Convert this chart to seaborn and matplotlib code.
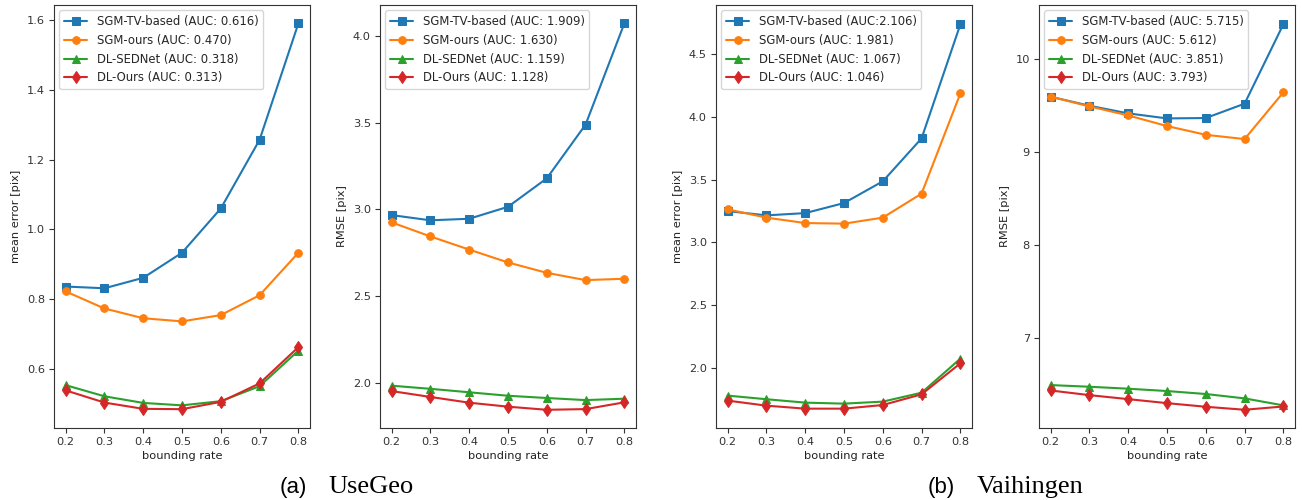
import numpy as np
import pandas as pd
import matplotlib
matplotlib.use("Agg")
import matplotlib.pyplot as plt
import seaborn as sns

rates = [0.2, 0.3, 0.4, 0.5, 0.6, 0.7, 0.8]
methods = ["SGM-TV-based", "SGM-ours", "DL-SEDNet", "DL-Ours"]

# UseGeo - mean error
use_me_tv = [0.836, 0.831, 0.861, 0.933, 1.060, 1.257, 1.591]
use_me_sgm = [0.822, 0.773, 0.745, 0.736, 0.754, 0.811, 0.933]
use_me_sed = [0.553, 0.521, 0.502, 0.495, 0.507, 0.550, 0.652]
use_me_dl = [0.538, 0.503, 0.485, 0.484, 0.505, 0.558, 0.662]
use_me_auc = ["0.616", "0.470", "0.318", "0.313"]

# UseGeo - RMSE
use_rm_tv = [2.967, 2.937, 2.946, 3.015, 3.179, 3.489, 4.073]
use_rm_sgm = [2.925, 2.844, 2.768, 2.694, 2.634, 2.592, 2.600]
use_rm_sed = [1.983, 1.965, 1.945, 1.925, 1.912, 1.900, 1.908]
use_rm_dl = [1.952, 1.918, 1.885, 1.862, 1.844, 1.848, 1.887]
use_rm_auc = ["1.909", "1.630", "1.159", "1.128"]

# Vaihingen - mean error
vai_me_tv = [3.249, 3.215, 3.233, 3.313, 3.486, 3.828, 4.736]
vai_me_sgm = [3.263, 3.197, 3.154, 3.149, 3.197, 3.388, 4.186]
vai_me_sed = [1.780, 1.751, 1.724, 1.716, 1.732, 1.803, 2.074]
vai_me_dl = [1.740, 1.700, 1.676, 1.676, 1.705, 1.790, 2.037]
vai_me_auc = [":2.106", ": 1.981", ": 1.067", ": 1.046"]

# Vaihingen - RMSE
vai_rm_tv = [9.595, 9.498, 9.416, 9.362, 9.366, 9.520, 10.373]
vai_rm_sgm = [9.595, 9.491, 9.394, 9.280, 9.186, 9.140, 9.642]
vai_rm_sed = [6.498, 6.480, 6.459, 6.434, 6.402, 6.355, 6.280]
vai_rm_dl = [6.440, 6.390, 6.347, 6.304, 6.265, 6.233, 6.268]
vai_rm_auc = ["5.715", "5.612", "3.851", "3.793"]

sns.set_theme(style="ticks")
plt.rcParams["font.family"] = ["DejaVu Sans"]
plt.rcParams["axes.edgecolor"] = "#333333"
plt.rcParams["xtick.color"] = "#333333"
plt.rcParams["ytick.color"] = "#333333"
plt.rcParams["axes.labelcolor"] = "#222222"

colors = ["#1f77b4", "#ff7f0e", "#2ca02c", "#d62728"]
markers = ["s", "o", "^", "d"]

fig = plt.figure(figsize=(13.02, 5.0), dpi=100)
lefts = [54, 380, 716, 1039]
W, H = 1302, 500
axes = [fig.add_axes([l / W, 72 / H, 256 / W, 423 / H]) for l in lefts]

panels = [
    ([use_me_tv, use_me_sgm, use_me_sed, use_me_dl], use_me_auc, "mean error [pix]", (0.43, 1.644), np.arange(0.6, 1.61, 0.2), "{:.1f}", False),
    ([use_rm_tv, use_rm_sgm, use_rm_sed, use_rm_dl], use_rm_auc, "RMSE [pix]", (1.739, 4.179), np.arange(2.0, 4.01, 0.5), "{:.1f}", False),
    ([vai_me_tv, vai_me_sgm, vai_me_sed, vai_me_dl], vai_me_auc, "mean error [pix]", (1.522, 4.89), np.arange(2.0, 4.51, 0.5), "{:.1f}", True),
    ([vai_rm_tv, vai_rm_sgm, vai_rm_sed, vai_rm_dl], vai_rm_auc, "RMSE [pix]", (6.037, 10.58), np.arange(7, 10.1, 1), "{:.0f}", False),
]

for ax, (series, aucs, ylab, ylim, yt, fmt, raw) in zip(axes, panels):
    for name, vals, auc, c, m in zip(methods, series, aucs, colors, markers):
        lab = f"{name} (AUC{auc})" if raw else f"{name} (AUC: {auc})"
        ms = 6.5 if m == "d" else 5.5
        sns.lineplot(x=rates, y=vals, ax=ax, color=c, marker=m, markersize=ms,
                     markeredgecolor=c, linewidth=1.5, label=lab)
    ax.set_xlim(0.17, 0.83)
    ax.set_ylim(*ylim)
    ax.set_xticks(rates)
    ax.set_xticklabels([f"{r:.1f}" for r in rates])
    ax.set_yticks(yt)
    ax.set_yticklabels([fmt.format(v) for v in yt])
    ax.tick_params(labelsize=8.2, length=3.5, width=0.8, pad=3)
    ax.set_xlabel("bounding rate", fontsize=8.2, labelpad=3)
    ax.set_ylabel(ylab, fontsize=8.2)
    for s in ax.spines.values():
        s.set_linewidth(0.8)
    ax.legend(loc="upper left", fontsize=8.4, frameon=True, framealpha=0.8,
              edgecolor="#cccccc", fancybox=True, handlelength=2.0,
              borderaxespad=0.45)

cap_y = 7 / H
fig.text(307 / W, cap_y, "(a)", ha="right", va="baseline", fontsize=16,
         family=["Liberation Sans", "DejaVu Sans"], color="black")
fig.text(328 / W, cap_y, "UseGeo", ha="left", va="baseline", fontsize=19,
         family=["Liberation Serif", "DejaVu Serif"], color="black")
fig.text(955 / W, cap_y, "(b)", ha="right", va="baseline", fontsize=16,
         family=["Liberation Sans", "DejaVu Sans"], color="black")
fig.text(977 / W, cap_y, "Vaihingen", ha="left", va="baseline", fontsize=19,
         family=["Liberation Serif", "DejaVu Serif"], color="black")

fig.savefig("out.png", dpi=100)
